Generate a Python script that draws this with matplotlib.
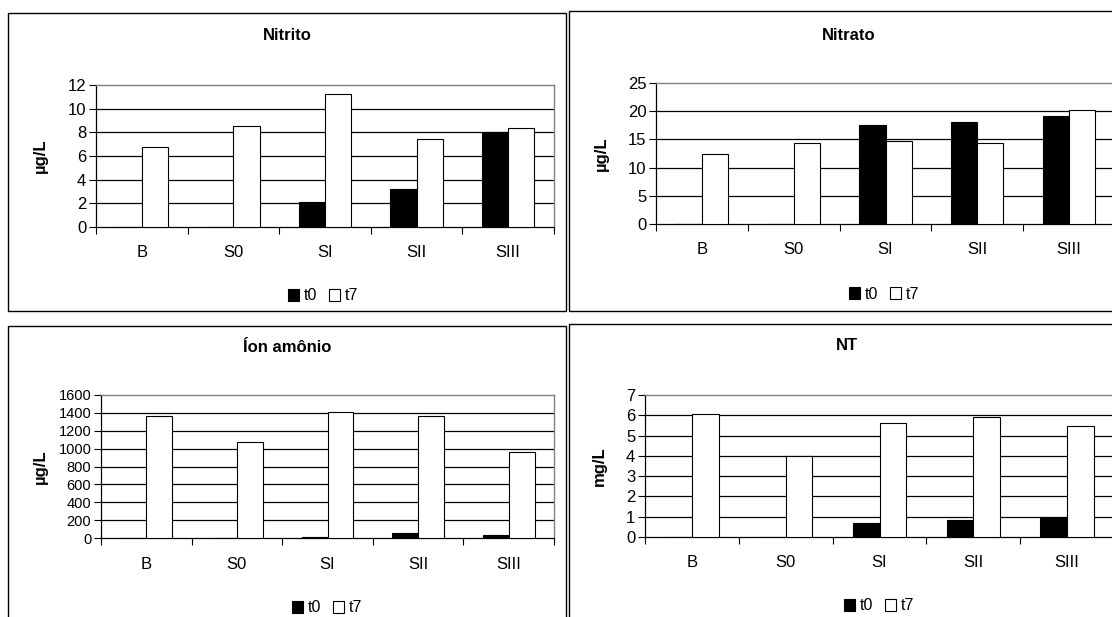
import matplotlib
matplotlib.use("Agg")
import matplotlib.pyplot as plt
from matplotlib.patches import Rectangle, Patch
import numpy as np

plt.rcParams['font.family'] = ['Liberation Sans', 'DejaVu Sans']

categories = ["B", "S0", "SI", "SII", "SIII"]
series_names = ["t0", "t7"]

nitrito_t0 = [0, 0, 2.1, 3.2, 8.0]
nitrito_t7 = [6.8, 8.5, 11.2, 7.4, 8.4]
nitrito_ticks = [0, 2, 4, 6, 8, 10, 12]

nitrato_t0 = [0, 0, 17.6, 18.0, 19.2]
nitrato_t7 = [12.5, 14.3, 14.7, 14.3, 20.2]
nitrato_ticks = [0, 5, 10, 15, 20, 25]

amonio_t0 = [0, 0, 15, 55, 30]
amonio_t7 = [1370, 1070, 1410, 1370, 960]
amonio_ticks = [0, 200, 400, 600, 800, 1000, 1200, 1400, 1600]

nt_t0 = [0, 0, 0.7, 0.85, 0.95]
nt_t7 = [6.05, 4.0, 5.6, 5.9, 5.45]
nt_ticks = [0, 1, 2, 3, 4, 5, 6, 7]

W, H = 1112, 617
fig = plt.figure(figsize=(W / 100, H / 100), dpi=100)


def fx(x):
    return x / W


def fy(y):
    return 1 - y / H


def box(x0, y0, x1, y1):
    fig.patches.append(Rectangle((fx(x0), fy(y1)), fx(x1) - fx(x0), fy(y0) - fy(y1),
                                 transform=fig.transFigure, fill=False,
                                 edgecolor='black', lw=1.0, zorder=0))


# panel frames
box(8, 13, 566, 311)
box(569, 11, 1125, 311)
box(8, 326, 566, 640)
box(569, 324, 1125, 640)


def panel(ax_px, t0, t7, ticks, title, title_xy, ylabel, ylab_x, xlab_y, leg_xy, ytick_fs):
    l, r, t, b = ax_px
    ax = fig.add_axes([fx(l), fy(b), fx(r) - fx(l), fy(t) - fy(b)])
    x = np.arange(len(categories)) + 0.5
    w = 0.285
    for v in ticks[1:-1]:
        ax.axhline(v, color='black', lw=0.9, zorder=1)
    ax.bar(x - w / 2, t0, width=w, color='black', edgecolor='black', lw=0.8, zorder=3)
    ax.bar(x + w / 2, t7, width=w, color='white', edgecolor='black', lw=0.8, zorder=3)
    ax.set_xlim(0, len(categories))
    ax.set_ylim(ticks[0], ticks[-1])
    ax.set_yticks(ticks)
    ax.set_yticklabels([str(v) for v in ticks], fontsize=ytick_fs)
    ax.set_xticks(np.arange(len(categories) + 1))
    ax.set_xticklabels([])
    ax.set_xticks(x, minor=True)
    ax.set_xticklabels(categories, minor=True, fontsize=12)
    ax.tick_params(axis='x', which='minor', length=0)
    ax.tick_params(axis='x', which='major', length=5, width=0.8, direction='out')
    ax.tick_params(axis='y', length=5, width=0.8, direction='out', pad=2)
    pad_px = xlab_y - b
    ax.tick_params(axis='x', which='minor', pad=pad_px * 0.72 - 6)
    for s in ['top', 'right']:
        ax.spines[s].set_color('#808080')
        ax.spines[s].set_linewidth(1.0)
    for s in ['left', 'bottom']:
        ax.spines[s].set_color('black')
        ax.spines[s].set_linewidth(0.9)
    fig.text(fx(title_xy[0]), fy(title_xy[1]), title, ha='center', va='center',
             fontsize=12, fontweight='bold')
    fig.text(fx(ylab_x), fy((t + b) / 2), ylabel, ha='center', va='center',
             rotation=90, fontsize=12, fontweight='bold')
    handles = [Patch(facecolor='black', edgecolor='black', lw=0.8),
               Patch(facecolor='white', edgecolor='black', lw=0.8)]
    fig.legend(handles, series_names, loc='center', bbox_to_anchor=(fx(leg_xy[0]), fy(leg_xy[1])),
               ncol=2, frameon=False, fontsize=11.5, handlelength=0.7, handleheight=0.7,
               handletextpad=0.3, columnspacing=0.7, borderpad=0)
    return ax


panel((96, 554, 85, 227), nitrito_t0, nitrito_t7, nitrito_ticks, "Nitrito", (287, 36),
      "µg/L", 40, 253, (323, 296), 12)
panel((656, 1115, 83, 224), nitrato_t0, nitrato_t7, nitrato_ticks, "Nitrato", (849, 35),
      "µg/L", 601, 250, (884, 294), 12)
panel((101, 554, 395, 538), amonio_t0, amonio_t7, amonio_ticks, "Íon amônio", (287, 348),
      "µg/L", 40, 565, (327, 608), 10.5)
panel((645, 1114, 395, 537), nt_t0, nt_t7, nt_ticks, "NT", (847, 346),
      "mg/L", 599, 563, (879, 606), 12)

fig.savefig("out.png", dpi=100, facecolor='white')
